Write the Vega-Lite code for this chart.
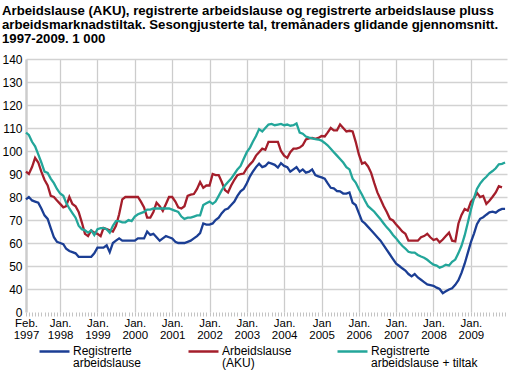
{
 "$schema": "https://vega.github.io/schema/vega-lite/v6.json",
 "width": 481,
 "height": 253,
 "autosize": {"type": "none"},
 "padding": {"left": 26, "top": 59, "right": 7, "bottom": 59},
 "title": {"text": ["Arbeidslause (AKU), registrerte arbeidslause og registrerte arbeidslause pluss", "arbeidsmarknadstiltak. Sesongjusterte tal, tremånaders glidande gjennomsnitt.", "1997-2009. 1 000"], "anchor": "start", "offset": 7, "fontSize": 13.2, "fontWeight": "bold", "lineHeight": 14, "color": "#000000", "font": "Liberation Sans"},
 "data": {"values": [
{"d":"1997-02-01","r":79,"a":91,"t":108},
{"d":"1997-03-01","r":80,"a":90,"t":107},
{"d":"1997-04-01","r":78.5,"a":93,"t":104},
{"d":"1997-05-01","r":78,"a":97,"t":102},
{"d":"1997-06-01","r":77.5,"a":95,"t":98.5},
{"d":"1997-07-01","r":75,"a":91,"t":95},
{"d":"1997-08-01","r":72,"a":87.5,"t":91},
{"d":"1997-09-01","r":70.5,"a":85,"t":90.5},
{"d":"1997-10-01","r":66.5,"a":80.5,"t":88},
{"d":"1997-11-01","r":62.5,"a":80,"t":86},
{"d":"1997-12-01","r":60.5,"a":78.5,"t":83.5},
{"d":"1998-01-01","r":60,"a":77,"t":81.5},
{"d":"1998-02-01","r":59.5,"a":75.5,"t":80.5},
{"d":"1998-03-01","r":57.5,"a":76,"t":77.5},
{"d":"1998-04-01","r":56.5,"a":80,"t":75},
{"d":"1998-05-01","r":56,"a":77,"t":73},
{"d":"1998-06-01","r":55.5,"a":76,"t":71},
{"d":"1998-07-01","r":54,"a":73.5,"t":67.5},
{"d":"1998-08-01","r":54,"a":69,"t":66},
{"d":"1998-09-01","r":54,"a":64,"t":65.5},
{"d":"1998-10-01","r":54,"a":63,"t":64.5},
{"d":"1998-11-01","r":54,"a":65.5,"t":65.5},
{"d":"1998-12-01","r":55.5,"a":64.5,"t":63.5},
{"d":"1999-01-01","r":58,"a":64,"t":66},
{"d":"1999-02-01","r":58,"a":63,"t":66.5},
{"d":"1999-03-01","r":58,"a":66.5,"t":66.5},
{"d":"1999-04-01","r":59,"a":66,"t":66},
{"d":"1999-05-01","r":56,"a":65.5,"t":64.5},
{"d":"1999-06-01","r":60,"a":65,"t":67.5},
{"d":"1999-07-01","r":61,"a":67.5,"t":69.5},
{"d":"1999-08-01","r":62,"a":72.5,"t":69.5},
{"d":"1999-09-01","r":61,"a":79,"t":69},
{"d":"1999-10-01","r":61,"a":80,"t":69},
{"d":"1999-11-01","r":61,"a":80,"t":70},
{"d":"1999-12-01","r":61,"a":80,"t":69.5},
{"d":"2000-01-01","r":61,"a":80,"t":71.5},
{"d":"2000-02-01","r":62,"a":80,"t":72.5},
{"d":"2000-03-01","r":62,"a":78,"t":73},
{"d":"2000-04-01","r":62,"a":75.5,"t":73.5},
{"d":"2000-05-01","r":65,"a":71,"t":74.5},
{"d":"2000-06-01","r":63.5,"a":71,"t":74.5},
{"d":"2000-07-01","r":64,"a":73.5,"t":75},
{"d":"2000-08-01","r":62.5,"a":77.5,"t":75},
{"d":"2000-09-01","r":61,"a":76,"t":75},
{"d":"2000-10-01","r":62,"a":74,"t":75},
{"d":"2000-11-01","r":63,"a":77,"t":75},
{"d":"2000-12-01","r":62.5,"a":80,"t":75},
{"d":"2001-01-01","r":62,"a":80,"t":74.5},
{"d":"2001-02-01","r":60.5,"a":78,"t":74},
{"d":"2001-03-01","r":60,"a":75.5,"t":73.5},
{"d":"2001-04-01","r":60,"a":75,"t":71.5},
{"d":"2001-05-01","r":60,"a":76,"t":70.5},
{"d":"2001-06-01","r":60.5,"a":80.5,"t":71},
{"d":"2001-07-01","r":61,"a":81,"t":71},
{"d":"2001-08-01","r":62,"a":81.3,"t":71.5},
{"d":"2001-09-01","r":63,"a":83.5,"t":72},
{"d":"2001-10-01","r":64.3,"a":86.5,"t":72},
{"d":"2001-11-01","r":68.5,"a":84,"t":76.5},
{"d":"2001-12-01","r":68,"a":85,"t":77.3},
{"d":"2002-01-01","r":68,"a":85,"t":78},
{"d":"2002-02-01","r":68.5,"a":90,"t":77},
{"d":"2002-03-01","r":70,"a":89.5,"t":78},
{"d":"2002-04-01","r":71,"a":89.5,"t":80.5},
{"d":"2002-05-01","r":73,"a":86.5,"t":83},
{"d":"2002-06-01","r":74.5,"a":83,"t":85},
{"d":"2002-07-01","r":75,"a":82,"t":86.5},
{"d":"2002-08-01","r":76.5,"a":85,"t":88},
{"d":"2002-09-01","r":78,"a":87.5,"t":90},
{"d":"2002-10-01","r":80.5,"a":89.5,"t":92},
{"d":"2002-11-01","r":82.5,"a":90,"t":93.5},
{"d":"2002-12-01","r":83.5,"a":90.2,"t":96.5},
{"d":"2003-01-01","r":86,"a":92.5,"t":99.5},
{"d":"2003-02-01","r":89,"a":94.2,"t":101.5},
{"d":"2003-03-01","r":91,"a":95.5,"t":104},
{"d":"2003-04-01","r":93,"a":98,"t":106.5},
{"d":"2003-05-01","r":94.5,"a":99.5,"t":109.5},
{"d":"2003-06-01","r":93,"a":101,"t":108.5},
{"d":"2003-07-01","r":93.5,"a":100.5,"t":110},
{"d":"2003-08-01","r":95,"a":104,"t":111.5},
{"d":"2003-09-01","r":94.5,"a":104,"t":111.8},
{"d":"2003-10-01","r":94,"a":104,"t":111.2},
{"d":"2003-11-01","r":92.8,"a":104,"t":111.5},
{"d":"2003-12-01","r":94.7,"a":100,"t":111.8},
{"d":"2004-01-01","r":93.5,"a":98,"t":111.2},
{"d":"2004-02-01","r":93,"a":97,"t":111.5},
{"d":"2004-03-01","r":91,"a":99.5,"t":111},
{"d":"2004-04-01","r":92,"a":101,"t":111.2},
{"d":"2004-05-01","r":93,"a":101,"t":112},
{"d":"2004-06-01","r":91,"a":101.5,"t":108},
{"d":"2004-07-01","r":92,"a":102.5,"t":107.5},
{"d":"2004-08-01","r":90.6,"a":105,"t":106.3},
{"d":"2004-09-01","r":91,"a":105.5,"t":105.8},
{"d":"2004-10-01","r":92,"a":105.7,"t":105.5},
{"d":"2004-11-01","r":89.5,"a":105.3,"t":105.2},
{"d":"2004-12-01","r":89,"a":105.7,"t":105},
{"d":"2005-01-01","r":88.5,"a":106.5,"t":104.5},
{"d":"2005-02-01","r":88,"a":106.3,"t":103.5},
{"d":"2005-03-01","r":86,"a":108,"t":102.5},
{"d":"2005-04-01","r":84,"a":110,"t":101},
{"d":"2005-05-01","r":83.8,"a":109,"t":99.5},
{"d":"2005-06-01","r":82.6,"a":109,"t":98},
{"d":"2005-07-01","r":82.5,"a":111.5,"t":96.5},
{"d":"2005-08-01","r":81.5,"a":110,"t":95},
{"d":"2005-09-01","r":81.5,"a":108.5,"t":93},
{"d":"2005-10-01","r":82,"a":108.8,"t":92},
{"d":"2005-11-01","r":77.5,"a":108.5,"t":88},
{"d":"2005-12-01","r":76.5,"a":104,"t":86.3},
{"d":"2006-01-01","r":73,"a":98.5,"t":83.5},
{"d":"2006-02-01","r":69.5,"a":94.5,"t":81},
{"d":"2006-03-01","r":68.5,"a":95,"t":78.5},
{"d":"2006-04-01","r":67,"a":93.3,"t":76},
{"d":"2006-05-01","r":65.5,"a":90.5,"t":74.8},
{"d":"2006-06-01","r":64,"a":86,"t":73.6},
{"d":"2006-07-01","r":62.5,"a":82,"t":72},
{"d":"2006-08-01","r":61,"a":79,"t":70.3},
{"d":"2006-09-01","r":59,"a":76,"t":68.5},
{"d":"2006-10-01","r":57,"a":73.5,"t":66.8},
{"d":"2006-11-01","r":55,"a":70.5,"t":65.3},
{"d":"2006-12-01","r":53,"a":69.8,"t":63.5},
{"d":"2007-01-01","r":51,"a":68,"t":62},
{"d":"2007-02-01","r":50,"a":66.5,"t":60.2},
{"d":"2007-03-01","r":49,"a":65,"t":58.8},
{"d":"2007-04-01","r":48,"a":64,"t":57.6},
{"d":"2007-05-01","r":46.5,"a":61,"t":56.2},
{"d":"2007-06-01","r":45.5,"a":61,"t":55.8},
{"d":"2007-07-01","r":46.5,"a":61,"t":55.8},
{"d":"2007-08-01","r":45,"a":61,"t":54.8},
{"d":"2007-09-01","r":44,"a":62.5,"t":54.1},
{"d":"2007-10-01","r":43,"a":63,"t":53.6},
{"d":"2007-11-01","r":42,"a":64,"t":52.7},
{"d":"2007-12-01","r":41.7,"a":62.5,"t":51.6},
{"d":"2008-01-01","r":41.4,"a":61.3,"t":50.6},
{"d":"2008-02-01","r":40.6,"a":61.8,"t":50.2},
{"d":"2008-03-01","r":40,"a":60.3,"t":49.3},
{"d":"2008-04-01","r":38.2,"a":61.5,"t":49.8},
{"d":"2008-05-01","r":39,"a":63,"t":50.6},
{"d":"2008-06-01","r":39.8,"a":64.5,"t":50.2},
{"d":"2008-07-01","r":40.3,"a":61,"t":51.8},
{"d":"2008-08-01","r":41.8,"a":60.7,"t":52.8},
{"d":"2008-09-01","r":43.8,"a":68.5,"t":55.6},
{"d":"2008-10-01","r":47,"a":72.2,"t":58.8},
{"d":"2008-11-01","r":51,"a":74.8,"t":63.3},
{"d":"2008-12-01","r":55.6,"a":74.1,"t":68.7},
{"d":"2009-01-01","r":60.4,"a":77.9,"t":74.5},
{"d":"2009-02-01","r":64.2,"a":79.4,"t":79.6},
{"d":"2009-03-01","r":68.2,"a":81.8,"t":83.5},
{"d":"2009-04-01","r":70.5,"a":80,"t":85.8},
{"d":"2009-05-01","r":71.2,"a":80.5,"t":87.5},
{"d":"2009-06-01","r":72.3,"a":77,"t":88.8},
{"d":"2009-07-01","r":73.3,"a":78.4,"t":90.3},
{"d":"2009-08-01","r":73.6,"a":80.1,"t":91.3},
{"d":"2009-09-01","r":73.2,"a":82,"t":92.5},
{"d":"2009-10-01","r":74.2,"a":84.7,"t":94.2},
{"d":"2009-11-01","r":74.8,"a":84.2,"t":94.4},
{"d":"2009-12-01","r":74.8,"t":95}
 ]},
 "transform": [{"fold": ["r", "a", "t"], "as": ["s", "v"]}, {"filter": "isValid(datum.v)"}],
 "mark": {"type": "line", "strokeWidth": 2.3},
 "encoding": {
  "x": {"field": "d", "type": "temporal",
   "scale": {"type": "utc", "domain": [{"year": 1997, "month": 2, "date": 1, "utc": true}, {"year": 2009, "month": 12, "date": 20, "utc": true}], "nice": false},
   "axis": {"title": null, "tickCount": {"interval": "month", "step": 1},
    "labelExpr": "utcmonth(datum.value)==0 ? [utcyear(datum.value)==2005 ? 'Jan' : 'Jan.', '' + utcyear(datum.value)] : ((utcyear(datum.value)==1997 && utcmonth(datum.value)==1) ? ['Feb.', '1997'] : '')",
    "labelOverlap": false, "labelFlush": false, "labelBound": false, "labelFontSize": 11.5, "labelColor": "#000000", "labelPadding": 1, "labelLineHeight": 12,
    "grid": true, "gridColor": {"condition": {"test": "utcmonth(datum.value)==0", "value": "#cccccc"}, "value": "transparent"}, "gridWidth": 1.3,
    "tickColor": "#c4c4c4", "tickSize": 4, "tickWidth": 1, "domain": false}},
  "y": {"field": "v", "type": "quantitative",
   "scale": {"domain": [30, 140], "nice": false, "zero": false},
   "axis": {"title": null, "values": [30, 40, 50, 60, 70, 80, 90, 100, 110, 120, 130, 140],
    "labelExpr": "datum.value==30 ? '0' : datum.label", "ticks": false, "labelFontSize": 12, "labelColor": "#000000", "labelPadding": 4,
    "gridColor": {"condition": {"test": "datum.value==30", "value": "transparent"}, "value": "#d2d2d2"}, "gridWidth": 1.5,
    "domainColor": "#cccccc", "domainWidth": 2.5}},
  "color": {"field": "s", "type": "nominal",
   "scale": {"domain": ["r", "a", "t"], "range": ["#1b3e94", "#a41e2b", "#23a69a"]},
   "legend": {"title": null, "orient": "none", "legendX": 12, "legendY": 276, "padding": 0, "direction": "horizontal", "gridAlign": "all", "symbolType": "stroke", "symbolSize": 900, "symbolStrokeWidth": 2.5,
    "labelFontSize": 12, "labelColor": "#000000", "labelLimit": 200, "columnPadding": 3, "labelBaseline": "top", "labelOffset": 2,
    "encode": {"labels": {"update": {"dy": {"value": -6}, "lineHeight": {"value": 12.5}}}},
    "labelExpr": "datum.value=='r' ? ['Registrerte', 'arbeidslause'] : (datum.value=='a' ? ['Arbeidslause', '(AKU)'] : ['Registrerte', 'arbeidslause + tiltak'])"}}
 },
 "config": {"view": {"stroke": null}, "font": "Liberation Sans"}
}
